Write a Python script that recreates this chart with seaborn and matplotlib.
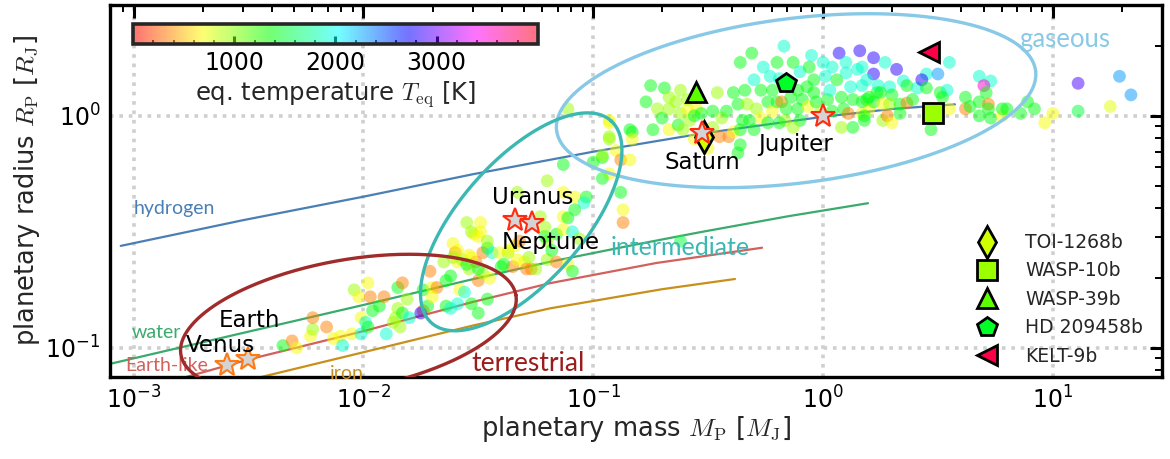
import numpy as np
import matplotlib
matplotlib.use("Agg")
import matplotlib.pyplot as plt
import seaborn as sns
from matplotlib.ticker import MultipleLocator, LogLocator, NullFormatter
from matplotlib.colors import Normalize
from matplotlib.cm import ScalarMappable

# ---------------- data ----------------
# exoplanet sample: log10 mass [M_J], log10 radius [R_J], equilibrium temperature [K]
log_mass = [
    -2.35, -2.31, -2.29, -2.23, -2.22, -2.22, -2.16, -2.13, -2.10, -2.09, -2.05, -2.04, -2.01, -2.01,
    -1.99, -1.98, -1.98, -2.02, -1.97, -1.96, -1.93, -1.91, -1.90, -1.87, -1.86, -1.85, -1.85, -1.83,
    -1.83, -1.81, -1.80, -1.84, -1.74, -1.74, -1.75, -1.72, -1.71, -1.70, -1.68, -1.70, -1.65, -1.64,
    -1.64, -1.62, -1.61, -1.60, -1.59, -1.59, -1.58, -1.57, -1.56, -1.54, -1.54, -1.53, -1.52, -1.51,
    -1.50, -1.50, -1.49, -1.48, -1.48, -1.46, -1.46, -1.45, -1.44, -1.49, -1.55, -1.41, -1.40, -1.37,
    -1.35, -1.30, -1.29, -1.27, -1.20, -1.16, -1.16, -1.11, -0.93, -0.83, -0.93, -0.90, -0.96, -0.88,
    -0.84, -1.00, -1.13, -0.93, -0.96, -0.88, -1.20, -1.13, -1.33, -1.08, -1.03, -1.04, -1.13, -1.11,
    -1.08, -0.87, -0.87, -1.53, -1.50, -1.59, -1.46, -1.37, -1.34, -1.32, -1.33, -1.28, -1.25, -1.20,
    -1.18, -1.11, -1.09, -1.21, -1.13, -1.09, -1.06, -1.23, -1.21, -1.55, -1.50, -1.53, -1.62, -1.61,
    -1.39, -0.62,
    -0.96, -0.93, -0.93, -0.84, -0.83, -0.77, -0.75, -0.74, -0.72, -0.69, -0.70, -0.67, -0.67, -0.64,
    -0.63, -0.62, -0.62, -0.61, -0.59, -0.58, -0.55, -0.53, -0.56, -0.50, -0.48, -0.48, -0.46, -0.45,
    -0.44, -0.41, -0.42, -0.39, -0.39, -0.37, -0.36, -0.35, -0.36, -0.34, -0.33, -0.31, -0.32, -0.30,
    -0.30, -0.29, -0.27, -0.27, -0.26, -0.24, -0.24, -0.23, -0.22, -0.22, -0.20, -0.20, -0.19, -0.18,
    -0.17, -0.165, -0.16, -0.14, -0.13, -0.11, -0.11, -0.10, -0.10, -0.09, -0.07, -0.065, -0.06, -0.05,
    -0.04, -0.04, -0.03, -0.01, 0.00, 0.01, 0.02, 0.03, 0.04, 0.04, 0.06, 0.07, 0.08, 0.09,
    0.10, 0.10, 0.11, 0.12, 0.13, 0.13, 0.15, 0.16, 0.17, 0.17, 0.18, 0.19, 0.20, 0.22,
    0.22, 0.235, 0.08, -0.37, -0.36, -0.19, -0.13, -0.56, -0.59, -0.67,
    0.27, 0.32, 0.17, 0.19, 0.24, 0.29, 0.35, 0.365, 0.41, 0.45, 0.43, 0.50, 0.55, 0.51,
    0.54, 0.45, 0.30, 0.25, 0.20, 0.17, 0.22, 0.26, 0.29, 0.335, 0.365, 0.39, 0.52, 0.55,
    0.18, 0.26, 0.28, 0.30, 0.335, 0.47, 0.62, 0.62, 0.64, 0.68, 0.73, 0.70, 0.71, 0.68,
    0.72, 0.72, 0.68, 0.73, 0.78, 0.78, 0.80, 0.86, 0.89, 0.92, 0.965, 1.00, 1.11, 1.11,
    1.25, 1.29, 1.34,
]
log_radius = [
    -0.99, -0.97, -1.00, -0.95, -0.92, -0.87, -0.91, -0.96, -0.95, -0.99, -0.94, -0.75, -0.87, -0.94,
    -0.89, -0.72, -0.91, -0.78, -0.78, -0.84, -0.82, -0.78, -0.94, -0.89, -0.87, -0.83, -0.74, -0.85,
    -0.72, -0.79, -0.87, -0.91, -0.84, -0.75, -0.85, -0.82, -0.67, -0.74, -0.74, -0.78, -0.63, -0.71,
    -0.82, -0.83, -0.55, -0.59, -0.81, -0.63, -0.75, -0.62, -0.76, -0.60, -0.66, -0.81, -0.51, -0.63,
    -0.71, -0.85, -0.50, -0.68, -0.59, -0.57, -0.79, -0.70, -0.59, -0.46, -0.46, -0.59, -0.65, -0.59,
    -0.65, -0.63, -0.66, -0.66, -0.62, -0.63, -0.51, 0.03, -0.03, -0.07, -0.09, -0.15, -0.18, -0.19,
    -0.19, -0.20, -0.21, -0.25, -0.27, -0.33, -0.28, -0.33, -0.33, -0.35, -0.35, -0.375, -0.435, -0.44,
    -0.405, -0.405, -0.46, -0.50, -0.52, -0.58, -0.54, -0.58, -0.56, -0.54, -0.62, -0.61, -0.66, -0.54,
    -0.58, -0.64, -0.67, -0.52, -0.49, -0.50, -0.53, -0.435, -0.48, -0.64, -0.66, -0.61, -0.69, -0.61,
    -0.64, -0.54,
    -0.17, -0.10, -0.02, -0.06, -0.10, 0.06, 0.13, -0.06, 0.03, 0.12, -0.01, 0.03, -0.06, 0.06,
    -0.04, 0.01, 0.11, -0.06, 0.03, -0.02, 0.03, 0.01, -0.10, -0.14, -0.05, 0.02, 0.10, -0.09,
    -0.01, -0.09, 0.02, -0.07, 0.10, 0.05, -0.125, -0.02, 0.23, 0.11, 0.05, 0.27, -0.02, -0.06,
    0.155, 0.03, 0.11, -0.01, 0.21, 0.06, -0.03, 0.17, 0.02, 0.11, 0.23, 0.06, 0.16, 0.06,
    0.30, -0.02, 0.03, 0.08, 0.23, 0.11, 0.03, 0.19, -0.02, 0.07, 0.125, 0.04, 0.21, 0.26,
    0.155, 0.10, 0.06, 0.02, 0.23, 0.17, 0.07, 0.11, 0.02, 0.21, 0.155, 0.27, 0.08, 0.03,
    0.185, 0.23, 0.01, 0.125, -0.05, 0.07, 0.20, 0.28, 0.01, 0.13, -0.02, 0.07, 0.03, 0.18,
    0.25, 0.10, -0.05, -0.16, -0.06, -0.03, -0.05, 0.00, 0.07, 0.08,
    0.23, 0.20, 0.21, 0.155, 0.13, 0.125, 0.15, 0.13, 0.12, 0.18, 0.155, 0.18, 0.23, 0.10,
    0.11, 0.12, 0.09, 0.10, 0.08, 0.06, 0.06, 0.05, 0.05, 0.05, 0.055, 0.07, 0.08, 0.03,
    0.00, -0.02, 0.00, -0.03, 0.01, -0.06, 0.08, 0.03, 0.04, 0.17, 0.15, 0.13, 0.10, 0.06,
    0.05, 0.03, 0.00, -0.01, 0.00, 0.03, 0.03, 0.01, 0.06, 0.03, -0.03, 0.01, 0.02, 0.14,
    0.04, 0.17, 0.09,
]
teq = [
    1400, 350, 700, 700, 950, 350, 350, 700, 700, 1900, 700, 950, 700, 1900,
    1900, 700, 1400, 700, 350, 1400, 1400, 350, 1900, 950, 950, 950, 1400, 1400,
    350, 950, 1900, 950, 250, 1400, 2800, 1400, 350, 700, 350, 700, 950, 1400,
    1400, 1900, 700, 350, 1900, 700, 700, 950, 1900, 700, 950, 1400, 700, 350,
    350, 1400, 700, 950, 350, 1400, 1400, 700, 1900, 700, 950, 700, 1400, 950,
    350, 700, 350, 350, 950, 350, 1400, 950, 700, 1400, 950, 700, 1400, 350,
    700, 1400, 1400, 700, 1400, 1400, 950, 700, 950, 700, 1400, 1900, 700, 1400,
    1400, 700, 350, 950, 700, 700, 950, 700, 700, 350, 700, 950, 950, 950,
    1400, 700, 1400, 1400, 700, 1900, 950, 950, 950, 1400, 1400, 700, 1400, 950,
    1400, 1500,
    950, 950, 700, 1400, 700, 1400, 1400, 1400, 950, 1400, 1400, 950, 700, 950,
    1400, 950, 950, 950, 700, 950, 700, 1400, 700, 700, 950, 1400, 950, 350,
    950, 350, 1400, 700, 1400, 1400, 1400, 1400, 1400, 1400, 950, 1400, 1400, 1400,
    1900, 950, 1400, 700, 1900, 1400, 1400, 1900, 700, 1400, 1400, 1400, 1900, 350,
    1900, 950, 1400, 1400, 1400, 1400, 1400, 1900, 1400, 1400, 1400, 700, 1400, 1900,
    1400, 1400, 1400, 950, 1900, 1900, 1400, 1900, 1400, 1900, 1400, 2800, 1400, 1400,
    1900, 1900, 350, 1900, 1400, 1400, 1900, 2800, 700, 1900, 1400, 1400, 700, 2800,
    2800, 1400, 950, 1400, 1400, 1400, 950, 1400, 950, 950,
    1900, 2800, 1900, 1900, 1900, 1900, 1900, 1400, 1900, 1900, 2800, 2300, 1900, 1400,
    1900, 1400, 1400, 1400, 1400, 1400, 1400, 700, 950, 1400, 350, 1400, 1400, 700,
    1400, 950, 350, 700, 1400, 1400, 1400, 350, 1400, 1900, 1900, 3500, 1400, 1400,
    350, 1400, 1400, 1400, 700, 1400, 1400, 1400, 1400, 1400, 700, 700, 1500, 2900,
    750, 2300, 2300,
]

# composition curves (mass [M_J], radius [R_J])
hydrogen_mass = [8.8e-4, 0.003, 0.01, 0.03, 0.1, 0.3, 1.0, 2.0, 3.75]
hydrogen_radius = [0.275, 0.355, 0.448, 0.56, 0.70, 0.84, 0.99, 1.07, 1.12]
water_mass = [7.9e-4, 0.003, 0.01, 0.0302, 0.065, 0.151, 0.292, 0.705, 1.57]
water_radius = [0.0853, 0.116, 0.153, 0.198, 0.235, 0.278, 0.315, 0.369, 0.42]
earthlike_mass = [1.38e-3, 0.00315, 0.01, 0.0302, 0.065, 0.188, 0.543]
earthlike_radius = [0.0707, 0.089, 0.118, 0.158, 0.19, 0.232, 0.27]
iron_mass = [2.83e-3, 0.01, 0.0302, 0.065, 0.2, 0.414]
iron_radius = [0.0707, 0.0957, 0.125, 0.148, 0.179, 0.198]

# solar-system planets
solar_names = ["Venus", "Earth", "Uranus", "Neptune", "Saturn", "Jupiter"]
solar_mass = [0.00256, 0.00315, 0.0457, 0.0540, 0.299, 1.0]
solar_radius = [0.0847, 0.0892, 0.357, 0.346, 0.843, 1.0]

# highlighted planets
ref_names = ["TOI-1268b", "WASP-10b", "WASP-39b", "HD 209458b", "KELT-9b"]
ref_mass = [0.303, 3.0, 0.28, 0.69, 2.88]
ref_radius = [0.81, 1.03, 1.27, 1.38, 1.89]
ref_teq = [800, 950, 1116, 1459, 3870]
ref_markers = ["d", "s", "^", "p", "<"]

# ---------------- styling ----------------
sns.set_theme(style="white")
plt.rcParams["font.family"] = ["DejaVu Sans"]
plt.rcParams["mathtext.fontset"] = "cm"

fig = plt.figure(figsize=(11.7, 4.59), dpi=100)
ax = fig.add_axes([0.094, 0.179, 0.899, 0.810])
ax.set_xscale("log")
ax.set_yscale("log")

cmap = plt.get_cmap("hsv")
norm = Normalize(0, 4000)

c_h, c_w, c_e, c_fe = "#4a7fb5", "#3aab6c", "#d2605c", "#c8901a"
for mx, ry, col in [(hydrogen_mass, hydrogen_radius, c_h), (water_mass, water_radius, c_w),
                    (earthlike_mass, earthlike_radius, c_e), (iron_mass, iron_radius, c_fe)]:
    sns.lineplot(x=mx, y=ry, ax=ax, color=col, lw=1.6, sort=False, estimator=None, zorder=2)

mass = 10 ** np.array(log_mass)
radius = 10 ** np.array(log_radius)
sns.scatterplot(x=mass, y=radius, hue=teq, palette="hsv", hue_norm=(0, 4000), s=85,
                alpha=0.5, linewidth=0, legend=False, ax=ax, zorder=3)

# population ellipses drawn in log space: centre (logM, logR), semi-axes (dex), angle
ell_specs = [((-0.117, 0.065), 1.05, 0.355, 7, "#87c9e6"),
             ((-1.313, -0.457), 0.585, 0.265, 48, "#3cb8b2"),
             ((-2.065, -0.901), 0.74, 0.28, 10, "#a02b2b")]
t = np.linspace(0, 2 * np.pi, 400)
for (cx, cy), a, b, ang, col in ell_specs:
    th = np.deg2rad(ang)
    lx = cx + a * np.cos(t) * np.cos(th) - b * np.sin(t) * np.sin(th)
    ly = cy + a * np.cos(t) * np.sin(th) + b * np.sin(t) * np.cos(th)
    ax.plot(10 ** lx, 10 ** ly, color=col, lw=2.4, zorder=4)

for m, r, n, mk, tq in zip(ref_mass, ref_radius, ref_names, ref_markers, ref_teq):
    ax.plot([m], [r], ls="none", marker=mk, ms=16 if mk == "d" else 15, mfc=cmap(norm(tq)),
            mec="black", mew=2, label=n, zorder=5)

for m, r, n in zip(solar_mass, solar_radius, solar_names):
    ec = "#ff7a10" if n in ("Earth", "Venus") else "#ff2a10"
    ax.plot([m], [r], ls="none", marker="*", ms=18, mfc="#d4d4d4", mec=ec, mew=1.5, zorder=6)

offsets = {"Venus": (-5, 14), "Earth": (1, 28), "Uranus": (13, 16), "Neptune": (14, -14),
           "Saturn": (0, -21), "Jupiter": (-20, -21)}
for m, r, n in zip(solar_mass, solar_radius, solar_names):
    ax.annotate(n, (m, r), xytext=offsets[n], textcoords="offset points", ha="center",
                va="center", fontsize=16.5, color="black", zorder=7)

lab_font = ["Lato", "DejaVu Sans"]
ax.text(1.0e-3, 0.40, "hydrogen", color=c_h, fontsize=14, va="center", ha="left", family=lab_font)
ax.text(9.8e-4, 0.116, "water", color=c_w, fontsize=14, va="center", ha="left", family=lab_font)
ax.text(9.2e-4, 0.0836, "Earth-like", color=c_e, fontsize=14, va="center", ha="left", family=lab_font)
ax.text(8.44e-3, 0.0773, "iron", color=c_fe, fontsize=14, va="center", ha="center", family=lab_font)
ax.text(0.052, 0.0853, "terrestrial", color="#9a1c1c", fontsize=19, va="center", ha="center", family=lab_font)
ax.text(0.239, 0.27, "intermediate", color="#3cb8b2", fontsize=18, va="center", ha="center", family=lab_font)
ax.text(11.3, 2.13, "gaseous", color="#87c9e6", fontsize=18.5, va="center", ha="center", family=lab_font)

ax.set_xlim(7.9e-4, 29.8)
ax.set_ylim(0.075, 3.0)
ax.grid(True, which="major", color="#cfcfcf", ls=(0, (1.0, 1.6)), lw=2.6)
ax.set_axisbelow(True)
for s in ax.spines.values():
    s.set_linewidth(2.4)
    s.set_color("black")
ax.tick_params(which="both", direction="in", top=True, right=True, colors="black")
ax.tick_params(which="major", length=9, width=2.2, labelsize=17, pad=7)
ax.tick_params(which="minor", length=5, width=1.4)
ax.xaxis.set_minor_locator(LogLocator(base=10, subs=np.arange(2, 10)))
ax.yaxis.set_minor_locator(LogLocator(base=10, subs=np.arange(2, 10)))
ax.xaxis.set_minor_formatter(NullFormatter())
ax.yaxis.set_minor_formatter(NullFormatter())
ax.set_xlabel(r"planetary mass $M_\mathrm{P}$ [$M_\mathrm{J}$]", fontsize=18.5, labelpad=0)
ax.set_ylabel(r"planetary radius $R_\mathrm{P}$ [$R_\mathrm{J}$]", fontsize=18.5, labelpad=2)

leg = ax.legend(loc="lower right", frameon=False, fontsize=13.5, handlelength=1.3,
                labelspacing=0.5, handletextpad=1.4, borderaxespad=0.2, bbox_to_anchor=(0.993, 0.0))

cax = ax.inset_axes([0.0219, 0.895, 0.385, 0.054])
sm = ScalarMappable(norm=norm, cmap=cmap)
cb = fig.colorbar(sm, cax=cax, orientation="horizontal", alpha=0.55)
cb.set_ticks([1000, 2000, 3000])
cb.ax.xaxis.set_minor_locator(MultipleLocator(200))
cb.ax.tick_params(which="both", direction="in", colors="black")
cb.ax.tick_params(which="major", length=6, width=2.2, labelsize=17, pad=5)
cb.ax.tick_params(which="minor", length=3, width=1.2)
cb.outline.set_linewidth(2.6)
cb.set_label(r"eq. temperature $T_\mathrm{eq}$ [K]", fontsize=17.5, labelpad=3)

fig.savefig("out.png", dpi=100)
